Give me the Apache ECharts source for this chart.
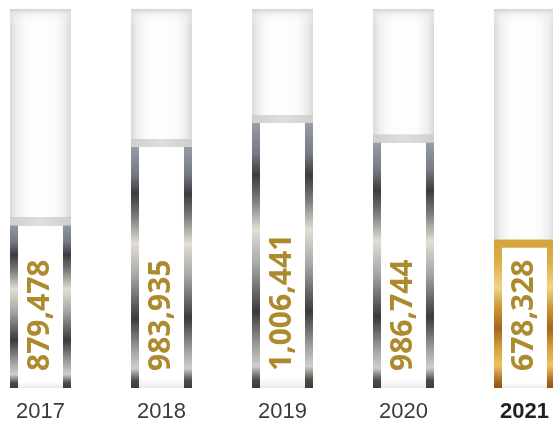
<!DOCTYPE html>
<html>
<head>
<meta charset="utf-8">
<script src="https://cdn.jsdelivr.net/npm/echarts@6/dist/echarts.min.js"></script>
<style>
html,body{margin:0;padding:0;background:#fff;}
#c{width:553px;height:428px;}
</style>
</head>
<body>
<div id="c"></div>
<script>
// Data
var categories = ['2017', '2018', '2019', '2020', '2021'];
var values = [879478, 983935, 1006441, 986744, 678328];
// visual bar fill level (percent of the full column), as drawn in the infographic
var barLevels = [45.0, 65.7, 72.0, 66.8, 39.1];
var highlightIndex = 4;

function fmt(v){ return v.toString().replace(/\B(?=(\d{3})+(?!\d))/g, ','); }

var silverStops = [
  {offset:0, color:'#a4a8b0'},
  {offset:0.07, color:'#8a8f9c'},
  {offset:0.14, color:'#767a86'},
  {offset:0.22, color:'#3c3c3c'},
  {offset:0.31, color:'#7a7a78'},
  {offset:0.42, color:'#e2ded6'},
  {offset:0.55, color:'#a6a6a4'},
  {offset:0.72, color:'#3a3a3a'},
  {offset:0.84, color:'#9a9a98'},
  {offset:0.92, color:'#cfcfcd'},
  {offset:0.97, color:'#4e4a46'},
  {offset:1, color:'#3e3a36'}
];
var goldStops = [
  {offset:0, color:'#d4a43c'},
  {offset:0.15, color:'#dcae46'},
  {offset:0.32, color:'#f0d486'},
  {offset:0.46, color:'#cc9634'},
  {offset:0.6, color:'#a4661e'},
  {offset:0.74, color:'#d8a43e'},
  {offset:0.85, color:'#ecc45e'},
  {offset:0.95, color:'#aa6a20'},
  {offset:1, color:'#8e521a'}
];

var seriesData = categories.map(function(c, i){ return [i, barLevels[i], values[i]]; });

var chart = echarts.init(document.getElementById('c'), null, {renderer:'canvas'});
chart.setOption({
  animation:false,
  grid:{left:-20, right:-32, top:9, bottom:40, containLabel:false, outerBoundsMode:'none'},
  xAxis:{
    type:'category', data:categories,
    axisLine:{show:false}, axisTick:{show:false},
    axisLabel:{
      margin:13, fontSize:22, color:'#3c3c3c', fontFamily:'Liberation Sans, Arial, sans-serif',
      formatter:function(v, i){ return i === highlightIndex ? '{b|' + v + '}' : v; },
      rich:{b:{fontSize:22, fontWeight:'bold', color:'#231f20', fontFamily:'Liberation Sans, Arial, sans-serif'}}
    }
  },
  yAxis:{type:'value', min:0, max:100, show:false},
  series:[{
    type:'custom',
    data:seriesData,
    encode:{x:0, y:1},
    renderItem:function(params, api){
      var idx = api.value(0);
      var lvl = api.value(1);
      var val = api.value(2);
      var band = api.size([1, 0])[0];
      var w = band * 0.504;
      var base = api.coord([idx, 0]);
      var topFull = api.coord([idx, 100]);
      var topBar = api.coord([idx, lvl]);
      var cx = base[0], x0 = cx - w/2;
      var yb = base[1];
      var gold = idx === highlightIndex;
      var frame = 8;
      var children = [];
      // background column
      children.push({type:'rect', shape:{x:x0, y:topFull[1], width:w, height:yb-topFull[1]},
        style:{fill:new echarts.graphic.LinearGradient(0,0,1,0,[
          {offset:0, color:'#d9d9d9'},{offset:0.1, color:'#eeeeee'},{offset:0.25, color:'#fbfbfb'},
          {offset:0.5, color:'#ffffff'},{offset:0.75, color:'#fbfbfb'},{offset:0.9, color:'#ededed'},{offset:1, color:'#d8d8d8'}])}});
      children.push({type:'rect', shape:{x:x0, y:topFull[1], width:w, height:16},
        style:{fill:new echarts.graphic.LinearGradient(0,0,0,1,[
          {offset:0, color:'rgba(205,205,205,0.9)'},{offset:0.35, color:'rgba(235,235,235,0.5)'},{offset:1, color:'rgba(255,255,255,0)'}])}});
      // metallic frame
      children.push({type:'rect', shape:{x:x0, y:topBar[1], width:w, height:yb-topBar[1]},
        style:{fill:new echarts.graphic.LinearGradient(0,0,0,1, gold ? goldStops : silverStops)}});
      // top band
      children.push({type:'rect', shape:{x:x0, y:topBar[1], width:w, height:frame},
        style:{fill: gold ? '#d4a63c' : new echarts.graphic.LinearGradient(0,0,1,0,[
          {offset:0, color:'#cfcfcc'},{offset:0.5, color:'#dededb'},{offset:1, color:'#cfcfcc'}])}});
      // inner white
      children.push({type:'rect', shape:{x:x0+frame, y:topBar[1]+frame, width:w-2*frame, height:yb-topBar[1]-frame},
        style:{fill:new echarts.graphic.LinearGradient(0,0,0,1,[
          {offset:0, color:'#ffffff'},{offset:0.96, color:'#ffffff'},{offset:1, color:'#ebebeb'}])}});
      // value label
      children.push({type:'text', x:cx, y:yb-17, rotation:Math.PI/2,
        style:{text:fmt(val), fill:'#ad8a2e', font:'bold 30px "Open Sans", sans-serif',
          textAlign:'left', textVerticalAlign:'middle'}});
      return {type:'group', children:children};
    }
  }]
});
</script>
</body>
</html>
